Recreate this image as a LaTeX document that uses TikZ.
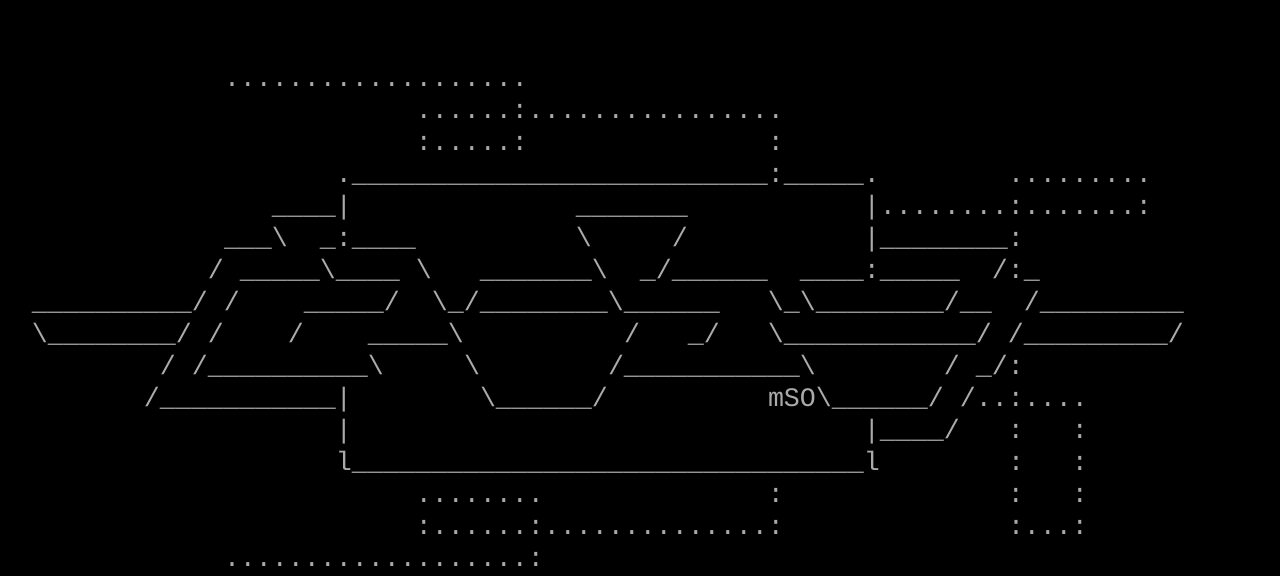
\documentclass[tikz,border=0pt]{standalone}
\usepackage{fontspec}
\setmonofont{Liberation Mono}
\definecolor{artgray}{HTML}{AAAAAA}
\newlength\cw
\setlength\cw{8pt}
\newcommand\sk[1]{\hspace*{#1\cw}}
\newcommand\bsl{\textbackslash}
\ExplSyntaxOn
\cs_new:Npn \rpt #1#2 { \prg_replicate:nn {#1} {#2} }
\ExplSyntaxOff
\tikzset{
  artrow/.style={anchor=base west, inner sep=0pt, outer sep=0pt, text=artgray,
    font=\ttfamily\fontsize{13.3312pt}{16pt}\selectfont}
}
\begin{document}
\begin{tikzpicture}[x=0.5pt,y=-0.5pt]
\useasboundingbox (0,0) rectangle (1280,576);
\fill[black] (0,0) rectangle (1280,576);
\node[artrow] (row2)  at (0,{32*2+23})  {\sk{14}\rpt{19}{.}};
\node[artrow] (row3)  at (0,{32*3+23})  {\sk{26}\rpt{6}{.}:\rpt{16}{.}};
\node[artrow] (row4)  at (0,{32*4+23})  {\sk{26}:\rpt{5}{.}:\sk{15}:};
\node[artrow] (row5)  at (0,{32*5+23})  {\sk{21}.\rpt{26}{\_}:\rpt{5}{\_}.\sk{8}\rpt{9}{.}};
\node[artrow] (row6)  at (0,{32*6+23})  {\sk{17}\rpt{4}{\_}|\sk{14}\rpt{7}{\_}\sk{11}|\rpt{8}{.}:\rpt{7}{.}:};
\node[artrow] (row7)  at (0,{32*7+23})  {\sk{14}\rpt{3}{\_}\bsl\sk{2}\_:\rpt{4}{\_}\sk{10}\bsl\sk{5}/\sk{11}|\rpt{8}{\_}:};
\node[artrow] (row8)  at (0,{32*8+23})  {\sk{13}/\sk{1}\rpt{5}{\_}\bsl\rpt{4}{\_}\sk{1}\bsl\sk{3}\rpt{7}{\_}\bsl\sk{2}\_/\rpt{6}{\_}\sk{2}\rpt{4}{\_}:\rpt{5}{\_}\sk{2}/:\_};
\node[artrow] (row9)  at (0,{32*9+23})  {\sk{2}\rpt{10}{\_}/\sk{1}/\sk{4}\rpt{5}{\_}/\sk{2}\bsl\_/\rpt{8}{\_}\bsl\rpt{6}{\_}\sk{3}\bsl\_\bsl\rpt{8}{\_}/\rpt{2}{\_}\sk{2}/\rpt{9}{\_}};
\node[artrow] (row10) at (0,{32*10+23}) {\sk{2}\bsl\rpt{8}{\_}/\sk{1}/\sk{4}/\sk{4}\rpt{5}{\_}\bsl\sk{10}/\sk{3}\_/\sk{3}\bsl\rpt{12}{\_}/\sk{1}/\rpt{9}{\_}/};
\node[artrow] (row11) at (0,{32*11+23}) {\sk{10}/\sk{1}/\rpt{10}{\_}\bsl\sk{5}\bsl\sk{8}/\rpt{11}{\_}\bsl\sk{8}/\sk{1}\_/:};
\node[artrow] (row12) at (0,{32*12+23}) {\sk{9}/\rpt{11}{\_}|\sk{8}\bsl\rpt{6}{\_}/\sk{10}mSO\bsl\rpt{6}{\_}/\sk{1}/..:....};
\node[artrow] (row13) at (0,{32*13+23}) {\sk{21}|\sk{32}|\rpt{4}{\_}/\sk{3}:\sk{3}:};
\node[artrow] (row14) at (0,{32*14+23}) {\sk{21}l\rpt{32}{\_}l\sk{8}:\sk{3}:};
\node[artrow] (row15) at (0,{32*15+23}) {\sk{26}\rpt{8}{.}\sk{14}:\sk{14}:\sk{3}:};
\node[artrow] (row16) at (0,{32*16+23}) {\sk{26}:\rpt{6}{.}:\rpt{14}{.}:\sk{14}:\rpt{3}{.}:};
\node[artrow] (row17) at (0,{32*17+23}) {\sk{14}\rpt{19}{.}:};
\end{tikzpicture}
\end{document}
